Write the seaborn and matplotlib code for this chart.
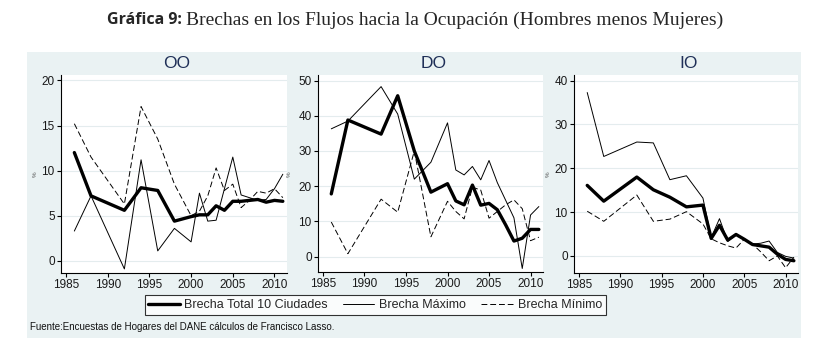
import matplotlib
matplotlib.use("Agg")
import matplotlib.pyplot as plt
from matplotlib.patches import Rectangle
from matplotlib.lines import Line2D
import seaborn as sns
import pandas as pd

sns.set_theme(style="white")
plt.rcParams['font.family'] = ['Liberation Sans', 'DejaVu Sans']

years = [1986, 1988, 1992, 1994, 1996, 1998, 2000, 2001, 2002,
         2003, 2004, 2005, 2006, 2007, 2008, 2009, 2010, 2011]

# OO
oo_total = [12.0, 7.2, 5.6, 8.1, 7.8, 4.4, 4.9, 5.1, 5.1, 6.1, 5.6, 6.6, 6.6, 6.7, 6.8, 6.5, 6.7, 6.6]
oo_max = [3.3, 7.2, -0.9, 11.2, 1.1, 3.6, 2.1, 7.5, 4.4, 4.5, 8.0, 11.5, 7.3, 7.0, 6.7, 6.8, 8.0, 9.6]
oo_min = [15.2, 11.5, 6.3, 17.1, 13.5, 8.5, 5.0, 5.5, 7.2, 10.3, 7.8, 8.5, 5.9, 6.7, 7.7, 7.5, 8.0, 7.0]
# DO
do_total = [17.8, 38.8, 34.8, 45.7, 30.0, 18.3, 20.7, 15.8, 14.7, 20.3, 14.6, 15.1, 13.3, 9.0, 4.4, 5.2, 7.7, 7.7]
do_max = [36.3, 38.5, 48.3, 40.5, 22.0, 26.8, 38.0, 24.6, 23.2, 25.6, 21.8, 27.3, 21.0, 16.0, 11.0, -3.4, 11.8, 14.2]
do_min = [9.8, 0.8, 16.3, 12.6, 30.0, 5.6, 15.7, 12.8, 10.7, 19.7, 18.9, 10.9, 12.8, 14.7, 16.1, 13.6, 4.5, 5.5]
# IO
io_total = [16.1, 12.5, 18.0, 15.1, 13.4, 11.2, 11.6, 4.0, 7.0, 3.6, 4.9, 3.8, 2.6, 2.3, 2.0, 0.4, -0.8, -1.1]
io_max = [37.3, 22.7, 26.0, 25.8, 17.4, 18.3, 13.2, 4.2, 8.5, 3.3, 4.8, 3.7, 2.7, 2.9, 3.4, 0.8, -0.1, -0.5]
io_min = [10.2, 7.9, 13.9, 7.9, 8.4, 10.1, 7.3, 3.9, 3.0, 2.3, 1.8, 3.8, 2.7, 0.9, -1.1, 0.0, -2.7, -0.3]

panels = ["OO", "DO", "IO"]
series = ["Brecha Total 10 Ciudades", "Brecha Máximo", "Brecha Mínimo"]
data = {"OO": [oo_total, oo_max, oo_min],
        "DO": [do_total, do_max, do_min],
        "IO": [io_total, io_max, io_min]}

yticks = {"OO": [0, 5, 10, 15, 20], "DO": [0, 10, 20, 30, 40, 50], "IO": [0, 10, 20, 30, 40]}
ylims = {"OO": (-1.35, 20.6), "DO": (-4.4, 51.6), "IO": (-3.9, 41.3)}

W, H = 834, 352
# axes boxes in pixels: left, right, top, bottom
boxes = {"OO": (61, 287, 75, 273), "DO": (318, 543, 75, 272), "IO": (574, 798, 75, 273)}
pct_x = {"OO": 35, "DO": 289, "IO": 548}

bg = '#eaf2f3'
fig = plt.figure(figsize=(W / 100, H / 100), dpi=100)
fig.patch.set_facecolor('white')
fig.add_artist(Rectangle((27 / W, 1 - 338 / H), (801 - 27) / W, (338 - 52) / H,
                         transform=fig.transFigure, facecolor=bg, edgecolor='none', zorder=0))

styles = [dict(lw=2.4, ls='-'), dict(lw=0.7, ls='-'), dict(lw=0.7, ls=(0, (6, 3)))]

for p in panels:
    l, r, t, b = boxes[p]
    ax = fig.add_axes([l / W, 1 - b / H, (r - l) / W, (b - t) / H])
    ax.set_facecolor('white')
    df = pd.DataFrame({"year": years})
    for name, vals, st in zip(series, data[p], styles):
        df[name] = vals
        sns.lineplot(data=df, x="year", y=name, ax=ax, color='black',
                     linewidth=st['lw'], linestyle=st['ls'])
    ax.set_xlim(1984.4, 2011.5)
    ax.set_ylim(*ylims[p])
    ax.set_xticks([1985, 1990, 1995, 2000, 2005, 2010])
    ax.set_yticks(yticks[p])
    ax.set_xlabel("")
    ax.set_ylabel("")
    for yv in yticks[p]:
        ax.axhline(yv, color='#e4ecee', lw=0.8, zorder=0)
    for s in ['top', 'right']:
        ax.spines[s].set_visible(False)
    for s in ['left', 'bottom']:
        ax.spines[s].set_color('black')
        ax.spines[s].set_linewidth(0.8)
    ax.tick_params(axis='both', direction='out', length=3, width=0.8, color='black',
                   labelsize=8.5, labelcolor='#1a1a1a', pad=1.5, left=True, bottom=True)
    fig.text((l + r) / 2 / W + 3 / W, 1 - 63 / H, p, ha='center', va='center',
             fontsize=12.5, color='#1f2f57')
    fig.text(pct_x[p] / W, 1 - 174 / H, "%", rotation=90, ha='center', va='center',
             fontsize=4.5, color='#555555')

handles = [Line2D([], [], color='black', **st) for st in styles]
leg = fig.legend(handles, series, loc='center', bbox_to_anchor=(375 / W, 1 - 305 / H),
                 ncol=3, frameon=True, fancybox=False, fontsize=9, handlelength=2.5,
                 columnspacing=1.2, handletextpad=0.4, borderpad=0.3)
leg.get_frame().set_edgecolor('black')
leg.get_frame().set_linewidth(0.8)
leg.get_frame().set_facecolor('white')

fig.text(30 / W, 1 - 327 / H, "Fuente:Encuestas de Hogares del DANE cálculos de Francisco Lasso.",
         ha='left', va='center', fontsize=7, color='#111111')

# title: bold sans part followed by serif part
fig.canvas.draw()
t1 = fig.text(107 / W, 1 - 20 / H, "Gráfica 9:", ha='left', va='center',
              fontsize=11.5, fontweight='bold', family=['Open Sans', 'DejaVu Sans'])
fig.canvas.draw()
bb = t1.get_window_extent()
fig.text((bb.x1 + 4) / W, 1 - 20 / H, "Brechas en los Flujos hacia la Ocupación (Hombres menos Mujeres)",
         ha='left', va='center', fontsize=14, family=['Liberation Serif', 'DejaVu Serif'])

fig.savefig("out.png", dpi=100, facecolor='white')
